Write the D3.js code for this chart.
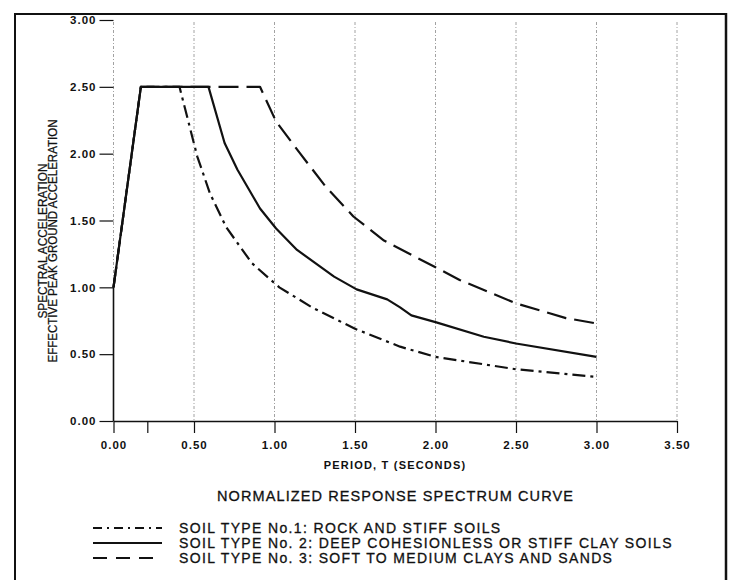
<!DOCTYPE html>
<html>
<head>
<meta charset="utf-8">
<script src="https://cdn.jsdelivr.net/npm/d3@7/dist/d3.min.js"></script>
<style>
  html, body { margin: 0; padding: 0; background: #fff; }
  svg { display: block; }
  text { font-family: "Liberation Sans", Arial, Helvetica, sans-serif; fill: #111; }
</style>
</head>
<body>
<svg id="chart" width="730" height="580"></svg>
<script>
// ---------------- DATA ----------------
const periodTicks = [0, 0.5, 1.0, 1.5, 2.0, 2.5, 3.0, 3.5];
const minorPeriodTicks = [0.21];
const accelTicks = [0, 0.5, 1.0, 1.5, 2.0, 2.5, 3.0];

const soil1T = [0, 0.17, 0.41, 0.52, 0.60, 0.70, 0.86, 1.03, 1.24, 1.50, 1.78, 2.00, 2.50, 3.00];
const soil1V = [1.00, 2.50, 2.50, 1.98, 1.70, 1.45, 1.18, 1.00, 0.845, 0.69, 0.556, 0.48, 0.387, 0.33];

const soil2T = [0, 0.17, 0.59, 0.69, 0.77, 0.91, 1.01, 1.14, 1.37, 1.51, 1.70, 1.78, 1.85, 2.00, 2.30, 2.50, 3.00];
const soil2V = [1.00, 2.50, 2.50, 2.08, 1.88, 1.59, 1.44, 1.28, 1.08, 0.985, 0.91, 0.85, 0.79, 0.74, 0.63, 0.58, 0.48];

const soil3T = [0, 0.17, 0.91, 1.01, 1.16, 1.32, 1.49, 1.68, 2.00, 2.15, 2.50, 2.81, 3.00];
const soil3V = [1.00, 2.50, 2.50, 2.24, 2.00, 1.75, 1.53, 1.35, 1.15, 1.055, 0.88, 0.77, 0.73];

const seriesNames = [
  "SOIL TYPE No.1: ROCK AND STIFF SOILS",
  "SOIL TYPE No. 2: DEEP COHESIONLESS OR STIFF CLAY SOILS",
  "SOIL TYPE No. 3: SOFT TO MEDIUM CLAYS AND SANDS"
];
const titleText = "NORMALIZED RESPONSE SPECTRUM CURVE";
const xLabel = "PERIOD, T (SECONDS)";
const yLabel1 = "SPECTRAL ACCELERATION";
const yLabel2 = "EFFECTIVE PEAK GROUND ACCELERATION";

// ---------------- LAYOUT ----------------
const svg = d3.select("#chart");
const x = d3.scaleLinear().domain([0, 3.5]).range([113.5, 677]);
const y = d3.scaleLinear().domain([0, 3]).range([421, 20]);

const dashStyles = ["13,5,3,5", null, "20,8"];
const legendDash = ["9,5,2,5", null, "14,9"];
const series = [
  soil1T.map((t, i) => [t, soil1V[i]]),
  soil2T.map((t, i) => [t, soil2V[i]]),
  soil3T.map((t, i) => [t, soil3V[i]])
];

// Frame
svg.append("line").attr("x1", 15).attr("x2", 15).attr("y1", 13).attr("y2", 580)
  .attr("stroke", "#111").attr("stroke-width", 2);
svg.append("line").attr("x1", 14).attr("x2", 727).attr("y1", 14).attr("y2", 14)
  .attr("stroke", "#111").attr("stroke-width", 2);
svg.append("line").attr("x1", 726).attr("x2", 726).attr("y1", 13).attr("y2", 580)
  .attr("stroke", "#111").attr("stroke-width", 2.5);

// Vertical grid lines
svg.append("g").selectAll("line").data(periodTicks).join("line")
  .attr("x1", d => x(d)).attr("x2", d => x(d))
  .attr("y1", y(3) + 2).attr("y2", y(0))
  .attr("stroke", "#8a8a8a").attr("stroke-width", 0.8)
  .attr("stroke-dasharray", "3,2,1,2");

// Solid part of y axis from 0 to first value
svg.append("line").attr("x1", x(0)).attr("x2", x(0))
  .attr("y1", y(0)).attr("y2", y(soil2V[0]))
  .attr("stroke", "#111").attr("stroke-width", 1.6);

const tickFont = sel => sel.attr("font-size", 11.5).attr("font-weight", "bold")
  .attr("letter-spacing", 1).attr("font-family", "Liberation Sans, Arial, sans-serif").attr("fill", "#111");

// Y axis
const yAxis = svg.append("g").attr("transform", `translate(${x(0)},0)`)
  .call(d3.axisLeft(y).tickValues(accelTicks).tickSize(14).tickPadding(3)
    .tickFormat(d3.format(".2f")));
yAxis.select(".domain").remove();
yAxis.selectAll(".tick line").attr("stroke", "#111").attr("stroke-width", 1.2);
yAxis.selectAll(".tick text").call(tickFont);

// X axis
const xAxis = svg.append("g").attr("transform", `translate(0,${y(0)})`)
  .call(d3.axisBottom(x).tickValues(periodTicks).tickSize(12).tickPadding(8)
    .tickFormat(d3.format(".2f")).tickSizeOuter(0));
xAxis.select(".domain").attr("stroke", "#111").attr("stroke-width", 1.6);
xAxis.selectAll(".tick line").attr("stroke", "#111").attr("stroke-width", 1.2);
xAxis.selectAll(".tick text").call(tickFont);

const xMinor = svg.append("g").attr("transform", `translate(0,${y(0)})`)
  .call(d3.axisBottom(x).tickValues(minorPeriodTicks).tickSize(12).tickFormat(""));
xMinor.select(".domain").remove();
xMinor.selectAll(".tick line").attr("stroke", "#111").attr("stroke-width", 1.2);

// Curves
const line = d3.line().x(d => x(d[0])).y(d => y(d[1]));
[2, 0, 1].forEach(i => {
  svg.append("path").datum(series[i])
    .attr("d", line)
    .attr("fill", "none")
    .attr("stroke", "#111")
    .attr("stroke-width", 2.2)
    .attr("stroke-linejoin", "round")
    .attr("stroke-dasharray", dashStyles[i]);
});

// Axis labels
svg.append("text").attr("x", 395).attr("y", 469)
  .attr("text-anchor", "middle").attr("font-size", 11).attr("font-weight", "bold")
  .attr("letter-spacing", 1.2).text(xLabel);

const yl = svg.append("g").attr("transform", "translate(0,241) rotate(-90)");
yl.append("text").attr("x", 0).attr("y", 47).attr("text-anchor", "middle")
  .attr("font-size", 12).attr("textLength", 155).attr("lengthAdjust", "spacingAndGlyphs")
  .attr("stroke", "#111").attr("stroke-width", 0.25)
  .text(yLabel1);
yl.append("text").attr("x", 0).attr("y", 57).attr("text-anchor", "middle")
  .attr("font-size", 12).attr("textLength", 243).attr("lengthAdjust", "spacingAndGlyphs")
  .attr("stroke", "#111").attr("stroke-width", 0.25)
  .text(yLabel2);

// Title
svg.append("text").attr("x", 395.5).attr("y", 501)
  .attr("text-anchor", "middle").attr("font-size", 14.5).attr("letter-spacing", 1.1)
  .attr("stroke", "#111").attr("stroke-width", 0.3)
  .text(titleText);

// Legend
const legY = [528, 543, 558];
seriesNames.forEach((name, i) => {
  svg.append("line").attr("x1", 93).attr("x2", 162)
    .attr("y1", legY[i]).attr("y2", legY[i])
    .attr("stroke", "#111").attr("stroke-width", 2)
    .attr("stroke-dasharray", legendDash[i]);
  svg.append("text").attr("x", 179).attr("y", legY[i] + 5)
    .attr("font-size", 14).attr("letter-spacing", 1.35)
    .attr("stroke", "#111").attr("stroke-width", 0.3)
    .text(name);
});
</script>
</body>
</html>
